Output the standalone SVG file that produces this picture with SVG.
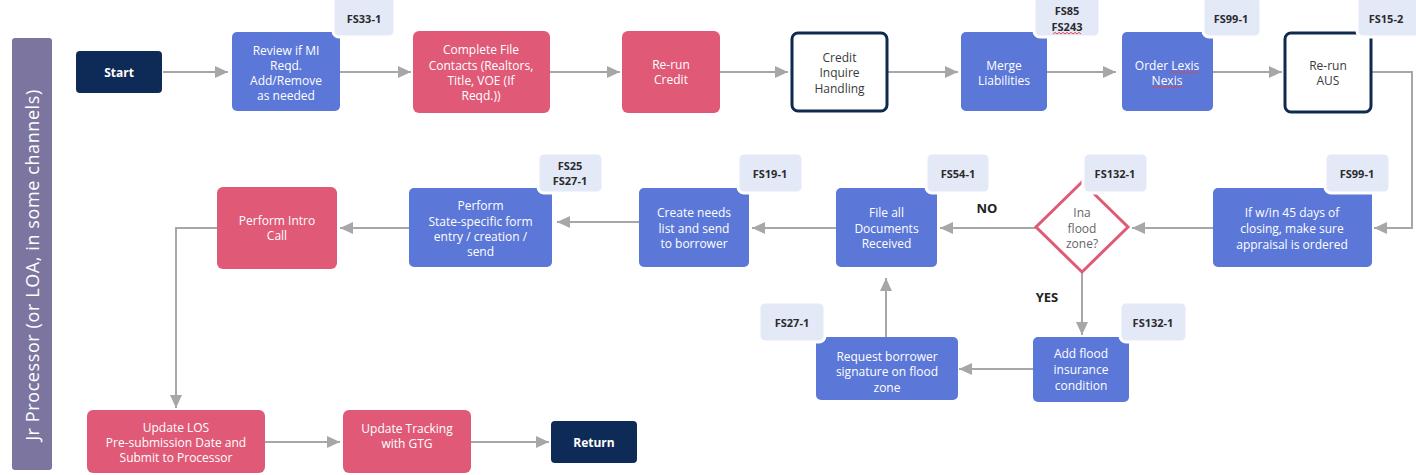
<svg xmlns="http://www.w3.org/2000/svg" width="1416" height="475" viewBox="0 0 1416 475">
<defs>
  <marker id="arr" markerUnits="userSpaceOnUse" markerWidth="14" markerHeight="12" refX="13" refY="6" orient="auto">
    <path d="M0,0 L13,6 L0,12 z" fill="#a7a7a7"/>
  </marker>
  <path id="wave" d="M0,0 l2,-1.6 l2,1.6 l2,-1.6 l2,1.6 l2,-1.6 l2,1.6 l2,-1.6 l2,1.6 l2,-1.6 l2,1.6 l2,-1.6 l2,1.6 l2,-1.6 l2,1.6" fill="none" stroke="#e0464f" stroke-width="1"/>
</defs>
<style>
  .t{font-family:"Open Sans","Liberation Sans",sans-serif;font-size:12px;font-weight:500;text-anchor:middle;dominant-baseline:central}
  .w{fill:#ffffff}
  .d{fill:#3a3a3a}
  .g{fill:#666666}
  .b{font-weight:700}
  .blue{fill:#5b77d8}
  .pink{fill:#e05a78}
  .navy{fill:#0e2a56}
  .out{fill:#ffffff;stroke:#10294f;stroke-width:3}
  .tag{fill:#e4e9f8;stroke:#ffffff;stroke-width:3}
  .tt{font-size:11px;font-weight:700;fill:#2b2b2b}
  .lbl{font-size:13px;font-weight:700;fill:#222222}
  .c{fill:none;stroke:#a7a7a7;stroke-width:2;marker-end:url(#arr)}
</style>
<rect width="1416" height="475" fill="#ffffff"/>

<!-- swimlane -->
<g id="lane">
  <rect x="12" y="38" width="40" height="432" rx="3" fill="#7b75a0"/>
  <text class="t w" transform="translate(32,265) rotate(-90)" style="font-size:18px;font-weight:400;letter-spacing:0.6px">Jr Processor (or LOA, in some channels)</text>
</g>

<!-- connectors -->
<g id="connectors">
  <path class="c" d="M163,72 H228"/>
  <path class="c" d="M340,72 H411"/>
  <path class="c" d="M550,72 H620"/>
  <path class="c" d="M720,72 H788"/>
  <path class="c" d="M888,72 H958"/>
  <path class="c" d="M1047,72 H1116"/>
  <path class="c" d="M1213,72 H1282"/>
  <path class="c" d="M1372,72 H1412 V228 H1374"/>
  <path class="c" d="M1213,228 H1132"/>
  <path class="c" d="M1036,228 H940"/>
  <path class="c" d="M836,228 H752"/>
  <path class="c" d="M639,222 H557"/>
  <path class="c" d="M409,228 H340"/>
  <path class="c" d="M217,228 H176 V408"/>
  <path class="c" d="M265,442 H340"/>
  <path class="c" d="M471,442 H549"/>
  <path class="c" d="M1082,272 V335"/>
  <path class="c" d="M1033,369 H959"/>
  <path class="c" d="M886,337 V278"/>
  <text class="t lbl" x="987" y="208">NO</text>
  <text class="t lbl" x="1047" y="297">YES</text>
</g>

<!-- row 1 -->
<g id="start">
  <rect class="navy" x="76" y="51" width="86" height="42" rx="4"/>
  <text class="t w b" x="119" y="72">Start</text>
</g>
<g id="review-mi">
  <rect class="blue" x="232" y="32" width="108" height="79" rx="5"/>
  <text class="t w" x="286" y="50">Review if MI</text>
  <text class="t w" x="286" y="65">Reqd.</text>
  <text class="t w" x="286" y="80">Add/Remove</text>
  <text class="t w" x="286" y="95">as needed</text>
  <rect class="tag" x="333" y="-4" width="62" height="41" rx="6"/>
  <text class="t tt" x="364" y="18">FS33-1</text>
</g>
<g id="complete-contacts">
  <rect class="pink" x="413" y="31" width="137" height="82" rx="6"/>
  <text class="t w" x="481" y="49">Complete File</text>
  <text class="t w" x="481" y="65">Contacts (Realtors,</text>
  <text class="t w" x="481" y="80">Title, VOE (If</text>
  <text class="t w" x="481" y="95">Reqd.))</text>
</g>
<g id="rerun-credit">
  <rect class="pink" x="622" y="31" width="98" height="82" rx="6"/>
  <text class="t w" x="671" y="64">Re-run</text>
  <text class="t w" x="671" y="79">Credit</text>
</g>
<g id="credit-inquire">
  <rect class="out" x="792" y="33" width="95" height="78" rx="6"/>
  <text class="t d" x="839.5" y="57">Credit</text>
  <text class="t d" x="839.5" y="72">Inquire</text>
  <text class="t d" x="839.5" y="88">Handling</text>
</g>
<g id="merge-liabilities">
  <rect class="blue" x="961" y="32" width="86" height="79" rx="5"/>
  <text class="t w" x="1004" y="65">Merge</text>
  <text class="t w" x="1004" y="80">Liabilities</text>
  <rect class="tag" x="1034" y="-4" width="66" height="41" rx="6"/>
  <text class="t tt" x="1067" y="10">FS85</text>
  <text class="t tt" x="1067" y="26">FS243</text>
  <use href="#wave" x="1053" y="34"/>
</g>
<g id="order-lexis">
  <rect class="blue" x="1122" y="32" width="91" height="79" rx="5"/>
  <text class="t w" x="1167" y="65">Order Lexis</text>
  <text class="t w" x="1167" y="80">Nexis</text>
  <use href="#wave" x="1170" y="73"/>
  <use href="#wave" x="1153" y="88"/>
  <rect class="tag" x="1203" y="-4" width="58" height="41" rx="6"/>
  <text class="t tt" x="1231" y="18">FS99-1</text>
</g>
<g id="rerun-aus">
  <rect class="out" x="1285" y="33" width="86" height="79" rx="6"/>
  <text class="t d" x="1328" y="65">Re-run</text>
  <text class="t d" x="1328" y="80">AUS</text>
  <rect class="tag" x="1357" y="-4" width="64" height="41" rx="6"/>
  <text class="t tt" x="1386" y="18">FS15-2</text>
</g>

<!-- row 2 -->
<g id="appraisal-check">
  <rect class="blue" x="1213" y="188" width="159" height="79" rx="5"/>
  <text class="t w" x="1292" y="212">If w/in 45 days of</text>
  <text class="t w" x="1292" y="228">closing, make sure</text>
  <text class="t w" x="1292" y="244">appraisal is ordered</text>
  <rect class="tag" x="1325" y="153" width="65" height="40" rx="6"/>
  <text class="t tt" x="1357" y="173">FS99-1</text>
</g>
<g id="flood-zone">
  <polygon points="1082,182 1128,227 1082,272 1036,227" fill="#ffffff" stroke="#e05a78" stroke-width="3"/>
  <text class="t g" x="1082" y="212">Ina</text>
  <text class="t g" x="1082" y="228">flood</text>
  <text class="t g" x="1082" y="243">zone?</text>
  <rect class="tag" x="1083" y="153" width="65" height="40" rx="6"/>
  <text class="t tt" x="1115" y="173">FS132-1</text>
</g>
<g id="file-documents">
  <rect class="blue" x="836" y="188" width="101" height="79" rx="5"/>
  <text class="t w" x="886.5" y="212">File all</text>
  <text class="t w" x="886.5" y="228">Documents</text>
  <text class="t w" x="886.5" y="243">Received</text>
  <rect class="tag" x="926" y="153" width="64" height="40" rx="6"/>
  <text class="t tt" x="958" y="173">FS54-1</text>
</g>
<g id="needs-list">
  <rect class="blue" x="639" y="188" width="110" height="79" rx="5"/>
  <text class="t w" x="694" y="212">Create needs</text>
  <text class="t w" x="694" y="228">list and send</text>
  <text class="t w" x="694" y="243">to borrower</text>
  <rect class="tag" x="738" y="153" width="65" height="40" rx="6"/>
  <text class="t tt" x="770" y="173">FS19-1</text>
</g>
<g id="state-forms">
  <rect class="blue" x="409" y="188" width="143" height="79" rx="5"/>
  <text class="t w" x="480.5" y="205">Perform</text>
  <text class="t w" x="480.5" y="221">State-specific form</text>
  <text class="t w" x="480.5" y="236">entry / creation /</text>
  <text class="t w" x="480.5" y="251">send</text>
  <rect class="tag" x="538" y="153" width="65" height="40" rx="6"/>
  <text class="t tt" x="570" y="165">FS25</text>
  <text class="t tt" x="570" y="180">FS27-1</text>
</g>
<g id="intro-call">
  <rect class="pink" x="217" y="187" width="120" height="82" rx="6"/>
  <text class="t w" x="277" y="220">Perform Intro</text>
  <text class="t w" x="277" y="235">Call</text>
</g>

<!-- row 3 -->
<g id="flood-insurance">
  <rect class="blue" x="1033" y="337" width="96" height="65" rx="5"/>
  <text class="t w" x="1081" y="353">Add flood</text>
  <text class="t w" x="1081" y="369">insurance</text>
  <text class="t w" x="1081" y="385">condition</text>
  <rect class="tag" x="1120" y="302" width="67" height="40" rx="6"/>
  <text class="t tt" x="1153" y="322">FS132-1</text>
</g>
<g id="borrower-signature">
  <rect class="blue" x="816" y="337" width="142" height="63" rx="5"/>
  <text class="t w" x="887" y="356">Request borrower</text>
  <text class="t w" x="887" y="371">signature on flood</text>
  <text class="t w" x="887" y="387">zone</text>
  <rect class="tag" x="759" y="302" width="66" height="40" rx="6"/>
  <text class="t tt" x="792" y="322">FS27-1</text>
</g>
<g id="update-los">
  <rect class="pink" x="87" y="410" width="178" height="63" rx="6"/>
  <text class="t w" x="176" y="427">Update LOS</text>
  <text class="t w" x="176" y="442">Pre-submission Date and</text>
  <text class="t w" x="176" y="457">Submit to Processor</text>
</g>
<g id="update-tracking">
  <rect class="pink" x="343" y="410" width="128" height="63" rx="6"/>
  <text class="t w" x="407" y="428">Update Tracking</text>
  <text class="t w" x="407" y="443">with GTG</text>
</g>
<g id="return">
  <rect class="navy" x="551" y="421" width="86" height="42" rx="4"/>
  <text class="t w b" x="594" y="442">Return</text>
</g>
</svg>
